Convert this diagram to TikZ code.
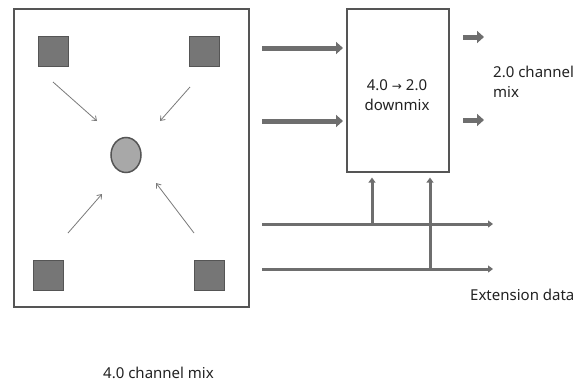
\documentclass[tikz,border=0pt]{standalone}
\usepackage{fontspec}
\setmainfont{Noto Sans}
\newfontfamily\arrowfont{DejaVu Sans}
\usetikzlibrary{arrows.meta,shapes.geometric}
\definecolor{boxc}{HTML}{555555}
\definecolor{sqfill}{HTML}{767676}
\definecolor{sqdraw}{HTML}{555555}
\definecolor{cfill}{HTML}{A8A8A8}
\definecolor{arrc}{HTML}{6E6E6E}
\definecolor{thinc}{HTML}{7A7A7A}
\definecolor{txtc}{HTML}{222222}
\tikzset{
  frame/.style={draw=boxc, line width=1.6pt, fill=white, inner sep=0pt, anchor=north west},
  spk/.style={draw=sqdraw, fill=sqfill, line width=1pt, minimum size=30pt, inner sep=0pt},
  listener/.style={ellipse, draw=boxc, fill=cfill, line width=1.5pt, minimum width=30pt, minimum height=35pt, inner sep=0pt},
  thinarrow/.style={draw=thinc, line width=0.8pt, -{Straight Barb[length=4pt,width=6pt]}},
  blockarrow/.style={draw=arrc, line width=5pt, -{Triangle[length=7pt,width=12pt]}},
  dataline/.style={draw=arrc, line width=3pt, -{Triangle[length=5pt,width=7pt]}},
  lbl/.style={inner sep=0pt, text=txtc, font=\fontsize{15}{20}\selectfont}
}
\begin{document}
\begin{tikzpicture}[x=1pt,y=-1pt]
\useasboundingbox (0,0) rectangle (579,383);
% left frame
\node[frame, minimum width=235pt, minimum height=298pt] (mix) at (13,8) {};
% speakers
\node[spk] (tl) at (53,51) {};
\node[spk] (tr) at (204,51) {};
\node[spk] (bl) at (48,275) {};
\node[spk] (br) at (209,275) {};
\node[listener] (c) at (126,155) {};
% thin arrows
\coordinate (a1s) at (53,82);  \coordinate (a1e) at (97,121);
\coordinate (a2s) at (190,87); \coordinate (a2e) at (160,121);
\coordinate (a3s) at (68,233); \coordinate (a3e) at (102,194);
\coordinate (a4s) at (194,233); \coordinate (a4e) at (156,183);
\draw[thinarrow] (a1s) -- (a1e);
\draw[thinarrow] (a2s) -- (a2e);
\draw[thinarrow] (a3s) -- (a3e);
\draw[thinarrow] (a4s) -- (a4e);
% downmix box
\node[frame, minimum width=102pt, minimum height=163pt] (dm) at (346,8) {};
\node[lbl, align=center] (dmtext) at (397,95) {4.0 {\arrowfont\fontsize{12}{20}\selectfont →} 2.0\\downmix};
% input arrows
\coordinate (in1) at (262,48);
\coordinate (in2) at (262,121);
\draw[blockarrow, shorten >=3pt] (in1) -- (dm.west |- in1);
\draw[blockarrow, shorten >=3pt] (in2) -- (dm.west |- in2);
% output arrows
\coordinate (o1s) at (463,37); \coordinate (o1e) at (484,37);
\coordinate (o2s) at (463,120); \coordinate (o2e) at (484,120);
\draw[blockarrow] (o1s) -- (o1e);
\draw[blockarrow] (o2s) -- (o2e);
\node[lbl, align=left, anchor=west] (outlbl) at (493,82) {2.0 channel\\mix};
% extension data lines
\coordinate (h1s) at (262,224); \coordinate (h1e) at (493,224);
\coordinate (h2s) at (262,269); \coordinate (h2e) at (493,269);
\draw[dataline] (h1s) -- (h1e);
\draw[dataline] (h2s) -- (h2e);
\coordinate (v1) at (372,224);
\coordinate (v2) at (430,269);
\draw[dataline, shorten >=5pt] (v1) -- (v1 |- dm.south);
\draw[dataline, shorten >=5pt] (v2) -- (v2 |- dm.south);
\node[lbl, anchor=west] (extlbl) at (470,295) {Extension data};
\node[lbl, anchor=west] (mixlbl) at (103,373) {4.0 channel mix};
\end{tikzpicture}
\end{document}
